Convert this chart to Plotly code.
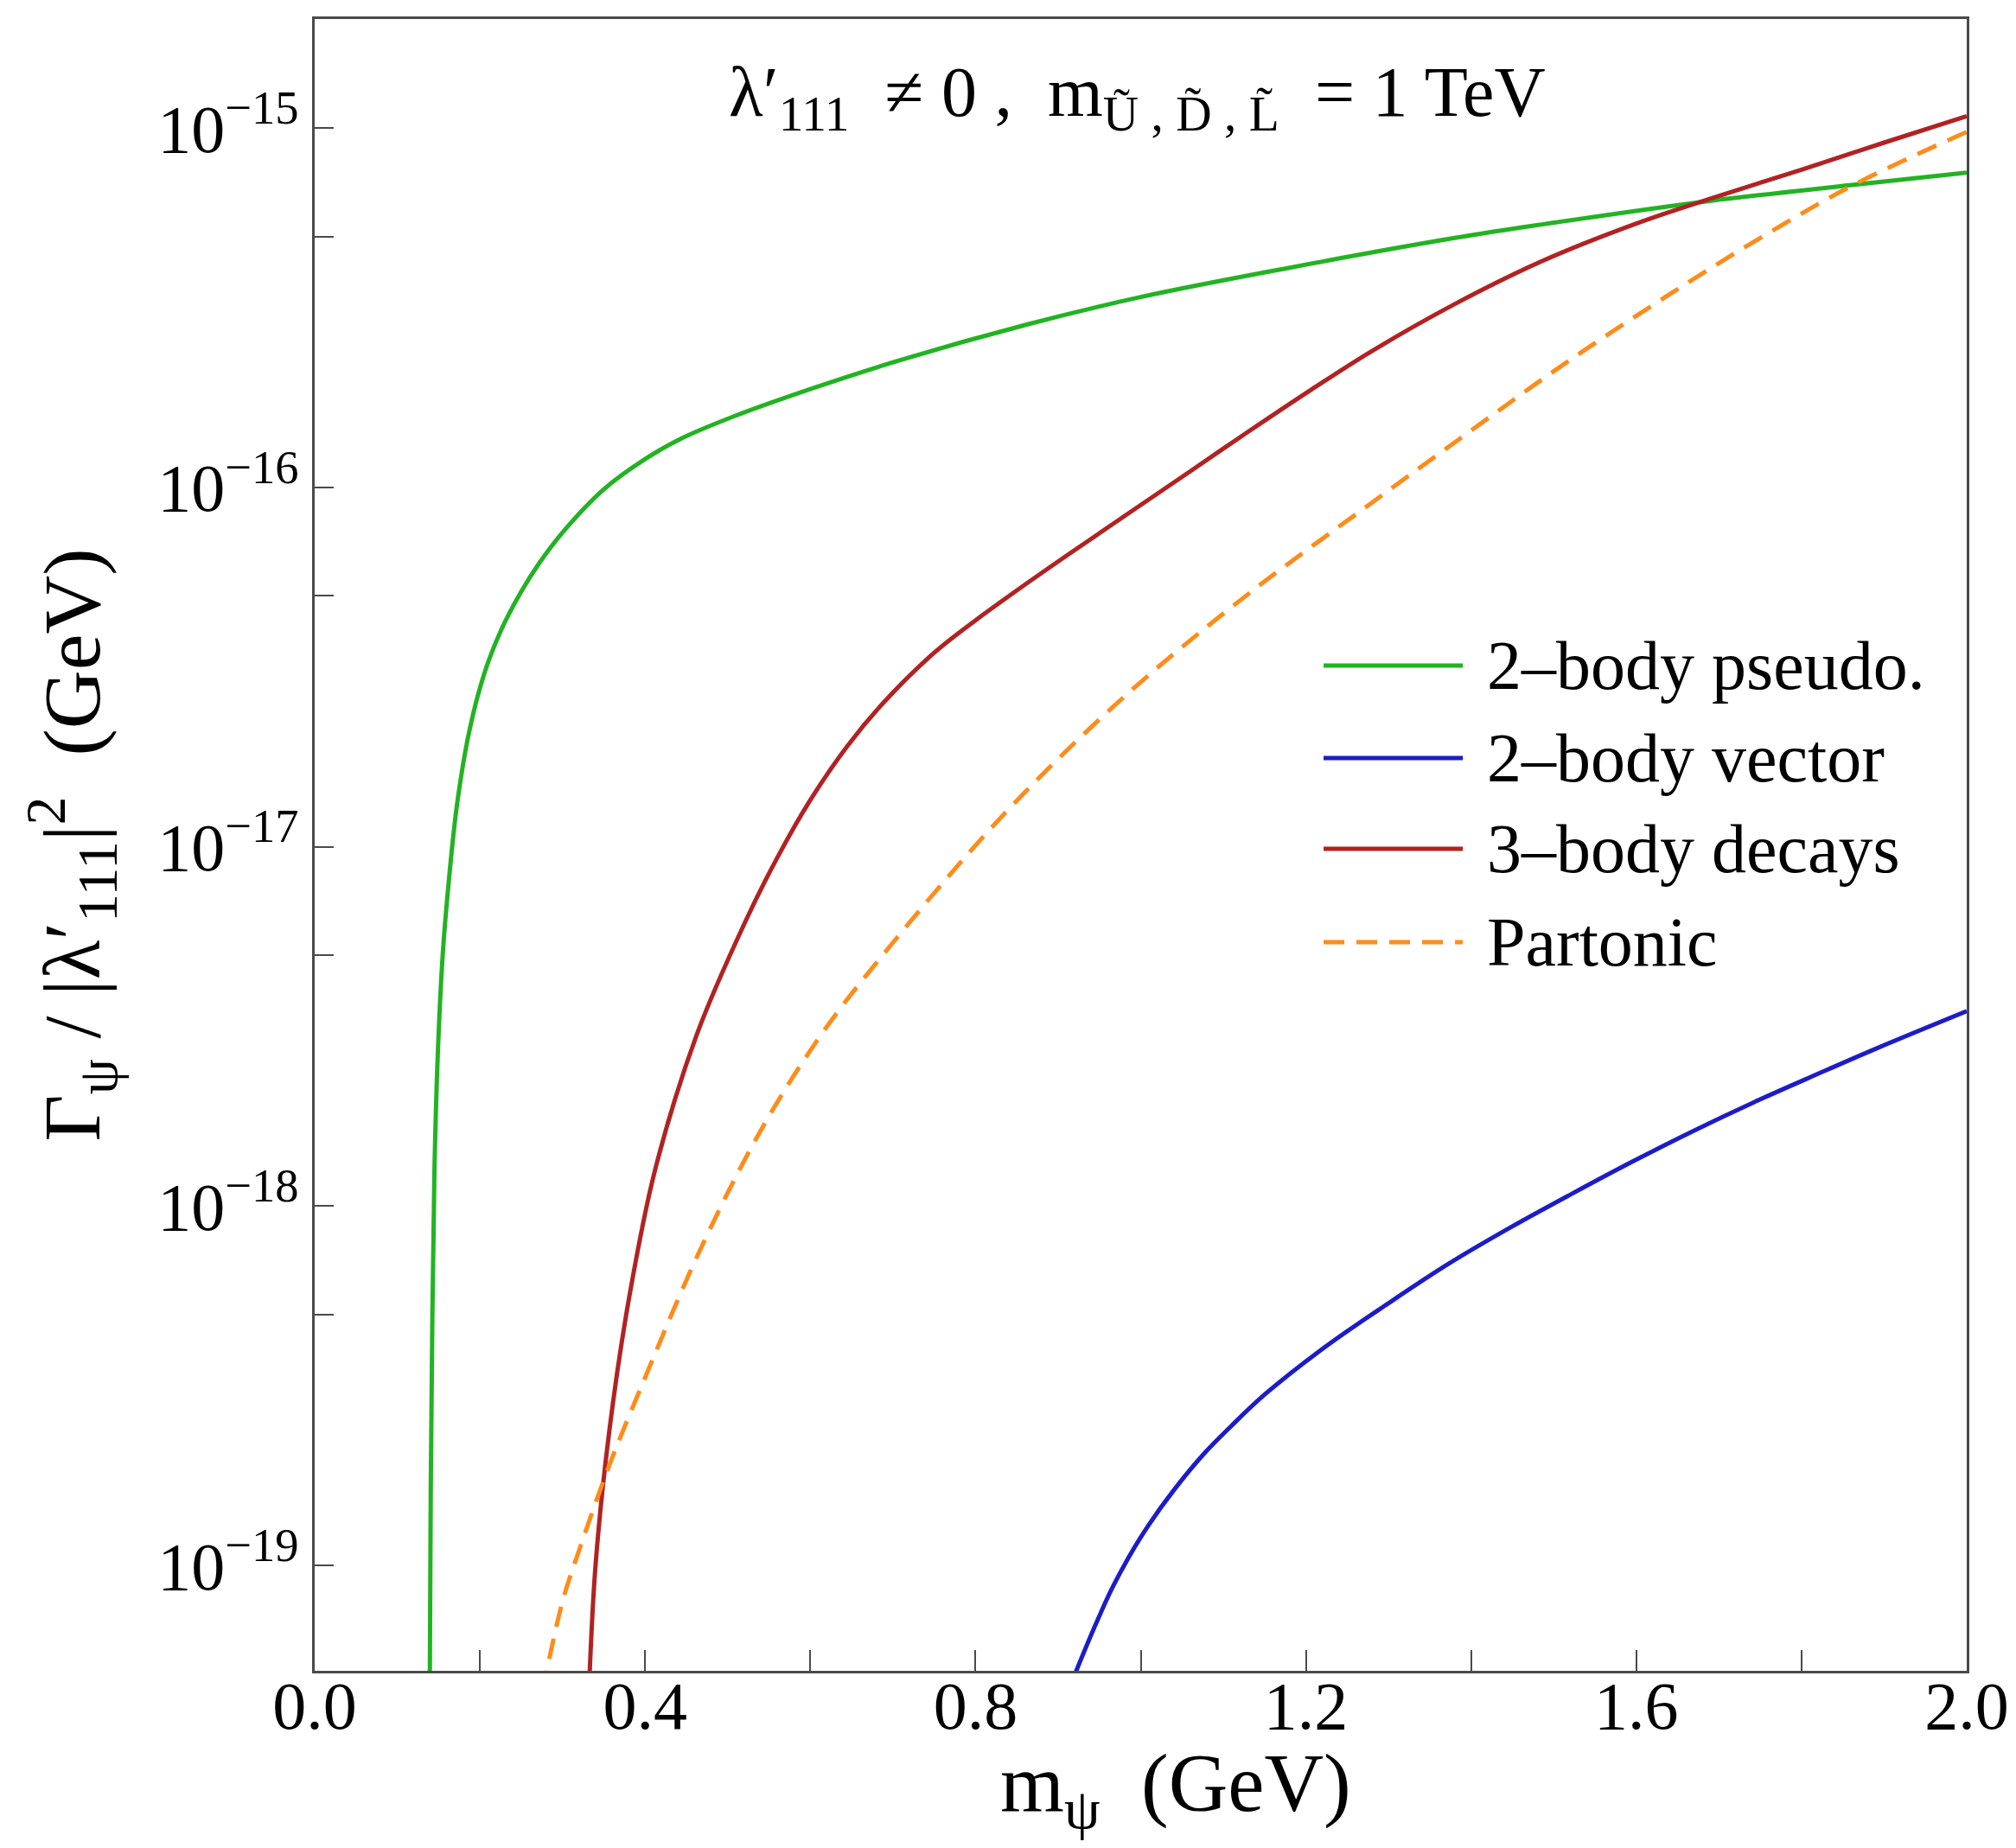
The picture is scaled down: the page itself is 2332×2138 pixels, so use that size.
import plotly.graph_objects as go

# ---------------- data ----------------
x_pseudo = [0.1393, 0.1405, 0.1425, 0.145, 0.149, 0.155, 0.163, 0.1725, 0.187, 0.205,
            0.225, 0.25, 0.272, 0.30, 0.35, 0.40, 0.444, 0.508, 0.60, 0.708,
            0.864, 1.0, 1.175, 1.38, 1.486, 1.687, 1.861, 2.0]
y_pseudo = [4.47e-20, 1.58e-19, 5.01e-19, 1.26e-18, 2.63e-18, 5.01e-18, 8.32e-18, 1.32e-17, 2.09e-17, 3.02e-17,
            3.98e-17, 5.13e-17, 6.17e-17, 7.50e-17, 9.89e-17, 1.20e-16, 1.37e-16, 1.58e-16, 1.88e-16, 2.26e-16,
            2.85e-16, 3.39e-16, 4.07e-16, 4.95e-16, 5.40e-16, 6.27e-16, 6.95e-16, 7.52e-16]

x_vector = [0.912, 0.943, 0.965, 0.985, 1.01, 1.04, 1.076, 1.11, 1.15, 1.224,
            1.30, 1.373, 1.447, 1.521, 1.595, 1.669, 1.743, 1.817, 1.891, 2.0]
y_vector = [4.47e-20, 6.65e-20, 8.61e-20, 1.05e-19, 1.30e-19, 1.62e-19, 2.04e-19, 2.45e-19, 2.99e-19, 4.07e-19,
            5.37e-19, 6.92e-19, 8.71e-19, 1.08e-18, 1.33e-18, 1.62e-18, 1.95e-18, 2.32e-18, 2.75e-18, 3.49e-18]

x_three = [0.332, 0.340, 0.357, 0.381, 0.412, 0.463, 0.521, 0.56, 0.60, 0.645,
           0.69, 0.75, 0.80, 0.86, 0.91, 0.98, 1.06, 1.13, 1.206, 1.28,
           1.38, 1.486, 1.60, 1.687, 1.80, 1.90, 2.0]
y_three = [4.47e-20, 1.00e-19, 2.40e-19, 5.62e-19, 1.26e-18, 3.02e-18, 6.17e-18, 9.33e-18, 1.35e-17, 1.91e-17,
           2.54e-17, 3.47e-17, 4.27e-17, 5.37e-17, 6.46e-17, 8.32e-17, 1.11e-16, 1.43e-16, 1.87e-16, 2.40e-16,
           3.24e-16, 4.27e-16, 5.43e-16, 6.34e-16, 7.67e-16, 9.12e-16, 1.08e-15]

x_parton = [0.276, 0.30, 0.32, 0.357, 0.394, 0.467, 0.541, 0.614, 0.688, 0.834,
            0.981, 1.128, 1.275, 1.398, 1.513, 1.642, 1.75, 1.861, 2.0]
y_parton = [4.47e-20, 7.94e-20, 1.10e-19, 1.91e-19, 3.09e-19, 7.59e-19, 1.64e-18, 3.02e-18, 5.01e-18, 1.23e-17,
            2.63e-17, 5.01e-17, 8.91e-17, 1.43e-16, 2.21e-16, 3.47e-16, 4.95e-16, 6.92e-16, 9.77e-16]

series_names = ["2\u2013body pseudo.", "2\u2013body vector", "3\u2013body decays", "Partonic"]
series_colors = ["#22b322", "#1c1cc8", "#b22222", "#ff8c1a"]
series_dash = ["solid", "solid", "solid", "24px,14px"]

x_tickvals = [0.0, 0.4, 0.8, 1.2, 1.6, 2.0]
x_ticktext = ["0.0", "0.4", "0.8", "1.2", "1.6", "2.0"]
x_minor = [0.2, 0.6, 1.0, 1.4, 1.8]
y_tickvals = [1e-19, 1e-18, 1e-17, 1e-16, 1e-15]
y_ticktext = ["10<sup>\u221219</sup>", "10<sup>\u221218</sup>", "10<sup>\u221217</sup>",
              "10<sup>\u221216</sup>", "10<sup>\u221215</sup>"]
y_minor = [5e-19, 5e-18, 5e-17, 5e-16]

FONT = "Liberation Serif"
FRAME = "#4a4a4a"

fig = go.Figure()
for xs, ys, name, col, dash in zip([x_pseudo, x_vector, x_three, x_parton],
                                   [y_pseudo, y_vector, y_three, y_parton],
                                   series_names, series_colors, series_dash):
    fig.add_trace(go.Scatter(x=xs, y=ys, mode="lines", name=name, showlegend=False,
                             line=dict(color=col, width=5, dash=dash, shape="spline", smoothing=1.0)))

# manual legend (long sample lines like the reference)
leg_y = [0.6086, 0.5526, 0.4976, 0.4411]
for yy, name, col, dash in zip(leg_y, series_names, series_colors, series_dash):
    fig.add_shape(type="line", xref="paper", yref="paper", x0=0.6107, x1=0.695, y0=yy, y1=yy,
                  line=dict(color=col, width=5, dash=dash))
    fig.add_annotation(x=0.7085, y=yy, xref="paper", yref="paper", text=name, showarrow=False,
                       xanchor="left", yanchor="middle", font=dict(family=FONT, size=80, color="black"))

# top label
fig.add_annotation(x=0.498, y=0.953, xref="paper", yref="paper", showarrow=False,
                   xanchor="center", yanchor="middle",
                   text="\u03bb\u2032<sub>111</sub>\u00a0\u00a0\u2260 0 ,\u00a0\u00a0m<sub>\u0168 , D\u0303 , L\u0303</sub>\u00a0\u00a0= 1 TeV",
                   font=dict(family=FONT, size=82, color="black"))

# x-axis title (placed as in the reference, slightly right of centre)
fig.add_annotation(x=0.521, y=-0.039, xref="paper", yref="paper", showarrow=False,
                   xanchor="center", yanchor="top",
                   text="m<sub>\u03c8</sub>\u00a0\u00a0(GeV)",
                   font=dict(family=FONT, size=95, color="black"))

fig.update_layout(
    width=2324, height=2122,
    margin=dict(l=356, r=57, t=14, b=197),
    paper_bgcolor="white", plot_bgcolor="white",
    font=dict(family=FONT, size=78, color="black"),
    xaxis=dict(range=[0, 2], tickvals=x_tickvals, ticktext=x_ticktext,
               ticks="inside", ticklen=24, tickwidth=2, tickcolor=FRAME,
               minor=dict(tickvals=x_minor, ticks="inside", ticklen=24, tickwidth=2, tickcolor=FRAME),
               showline=True, linecolor=FRAME, linewidth=2.5, mirror=True,
               showgrid=False, zeroline=False, automargin=False, ticklabeloverflow="allow",
               ticklabelstandoff=-29,
               tickfont=dict(family=FONT, size=78)),
    yaxis=dict(type="log", range=[-19.293, -14.696], tickvals=y_tickvals, ticktext=y_ticktext,
               ticks="inside", ticklen=22, tickwidth=2, tickcolor=FRAME,
               minor=dict(tickvals=y_minor, ticks="inside", ticklen=22, tickwidth=2, tickcolor=FRAME),
               showline=True, linecolor=FRAME, linewidth=2.5, mirror=True,
               showgrid=False, zeroline=False, automargin=False,
               tickfont=dict(family=FONT, size=78),
               title=dict(text="\u0393<sub>\u03c8</sub> / |\u03bb\u2032<sub>111</sub>|<sup>2</sup>\u00a0\u00a0(GeV)",
                          font=dict(family=FONT, size=94), standoff=36)),
)

fig.write_html("out.html")
